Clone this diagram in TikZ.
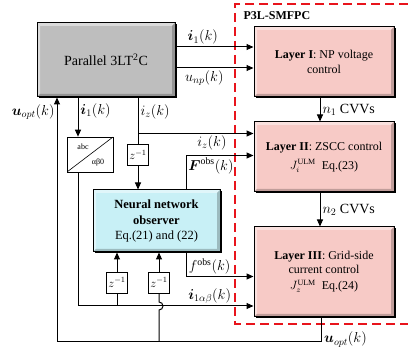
\documentclass[tikz,border=0pt]{standalone}
\usepackage{amsmath,amssymb}
\usepackage{fontspec}
\setmainfont{Liberation Serif}
\usepackage{xcolor}
\usepackage{tikz}
\usetikzlibrary{arrows.meta,positioning,calc,shadows}
\definecolor{plantgray}{HTML}{BEBEBE}
\definecolor{layerpink}{HTML}{F7CAC6}
\definecolor{obscyan}{HTML}{C8F0F6}
\definecolor{ctrlred}{HTML}{E8141C}

\begin{document}
\begin{tikzpicture}[x=1pt,y=1pt,
  font=\fontsize{12}{15}\selectfont,
  bevel/.style={path picture={
    \fill[white,opacity=0.45] (path picture bounding box.north west) -- (path picture bounding box.north east)
      -- ([shift={(-3pt,-3pt)}]path picture bounding box.north east) -- ([shift={(3pt,-3pt)}]path picture bounding box.north west)
      -- ([shift={(3pt,3pt)}]path picture bounding box.south west) -- (path picture bounding box.south west) -- cycle;
    \fill[black,opacity=0.22] (path picture bounding box.south east) -- (path picture bounding box.south west)
      -- ([shift={(3pt,3pt)}]path picture bounding box.south west) -- ([shift={(-3pt,3pt)}]path picture bounding box.south east)
      -- ([shift={(-3pt,-3pt)}]path picture bounding box.north east) -- (path picture bounding box.north east) -- cycle;}},
  blockbox/.style={draw=black,line width=1pt,align=center,inner sep=2pt,bevel,
    drop shadow={shadow xshift=1.5pt,shadow yshift=-1.5pt,fill=black,opacity=1}},
  delaybox/.style={draw=black,line width=0.6pt,fill=white,minimum size=21pt,inner sep=0pt},
  lbl/.style={font=\fontsize{14}{16}\selectfont,inner sep=2pt},
  sig/.style={-{Triangle[length=7pt,width=6pt]},line width=1pt},
  wire/.style={line width=1pt}]
  \useasboundingbox (0,0) rectangle (408,354);
  % controller frame
  \draw[ctrlred,line width=1.4pt,dash pattern=on 9pt off 5pt] (408,350) -- (235,350) -- (235,30) -- (408,30);
  \node[anchor=west,font=\fontsize{12}{14}\bfseries] (title) at (240,338) {P3L-SMFPC};
  % blocks
  \node[blockbox,fill=plantgray,minimum width=138pt,minimum height=74pt,font=\fontsize{14}{16}\selectfont] (plant) at (106,294) {Parallel 3LT\textsuperscript{2}C};
  \node[blockbox,fill=layerpink,minimum width=140pt,minimum height=70pt] (layer1) at (324,292)
    {\textbf{Layer I}: NP voltage\\control};
  \node[blockbox,fill=layerpink,minimum width=140pt,minimum height=70pt] (layer2) at (324,197)
    {\textbf{Layer II}: ZSCC control\\[4pt]$J_i^{\mathrm{ULM}}$\ \ Eq.(23)};
  \node[blockbox,fill=layerpink,minimum width=140pt,minimum height=90pt,font=\fontsize{12}{13.5}\selectfont] (layer3) at (324,82)
    {\textbf{Layer III}: Grid-side\\current control\\[3pt]$J_z^{\mathrm{ULM}}$\ \ Eq.(24)};
  \node[blockbox,fill=obscyan,minimum width=127pt,minimum height=62pt,font=\fontsize{12.5}{15.5}\selectfont] (nno) at (156.5,133)
    {\textbf{Neural network}\\\textbf{observer}\\Eq.(21) and (22)};
  % abc/alpha-beta-0 transform
  \node[draw=black,line width=0.6pt,fill=white,minimum width=46pt,minimum height=35pt,
    path picture={\draw[line width=0.6pt] (path picture bounding box.south west) -- (path picture bounding box.north east);}] (conv) at (90,199.5) {};
  \node[font=\fontsize{8}{9}\selectfont] (convin) at (83,207) {abc};
  \node[font=\fontsize{8}{9}\selectfont] (convout) at (98,191) {αβ0};
  % unit delays
  \node[delaybox] (dz) at (138,199) {$z^{-1}$};
  \node[delaybox] (dl) at (117,71.5) {$z^{-1}$};
  \node[delaybox] (dr) at (159,71.5) {$z^{-1}$};
  % helper points
  \coordinate (i1out) at ([yshift=13pt]plant.east);
  \coordinate (unpout) at ([yshift=-8pt]plant.east);
  \coordinate (i1top) at ([xshift=-28pt]plant.south);
  \coordinate (albe) at (i1top |- 0,48);
  \coordinate (iztop) at (plant.south -| dz);
  \coordinate (izj) at ([yshift=-36pt]iztop);
  \coordinate (fT) at ([xshift=29.5pt]nno.north);
  \coordinate (fTc) at ([yshift=34pt]fT);
  \coordinate (fB) at ([xshift=29.5pt]nno.south);
  \coordinate (fBc) at ([yshift=-24pt]fB);
  \coordinate (uoptR) at ([xshift=-3pt,yshift=-24pt]layer3.south);
  \coordinate (uoptL) at (57,0 |- uoptR);
  % Layer I inputs
  \draw[sig] (i1out) -- node[lbl,pos=0.35,above] {$\boldsymbol{i}_1(k)$} (i1out -| layer1.west);
  \draw[sig] (unpout) -- node[lbl,pos=0.37,below] {$u_{np}(k)$} (unpout -| layer1.west);
  % converter currents
  \draw[sig] (i1top) -- node[lbl,pos=0.35,right] {$\boldsymbol{i}_1(k)$} (i1top |- conv.north);
  \draw[sig] (i1top |- conv.south) -- (albe) -- node[lbl,pos=0.75,above] {$\boldsymbol{i}_{1\alpha\beta}(k)$} (albe -| layer3.west);
  \draw[sig] (iztop) -- node[lbl,pos=0.4,right] {$i_z(k)$} (izj) -- node[lbl,pos=0.64,below] {$i_z(k)$} (izj -| layer2.west);
  \draw[wire] (izj) -- (dz.north);
  \draw[sig] (dz.south) -- (dz |- nno.north);
  % observer outputs
  \draw[sig] (fT) -- (fTc) -- node[lbl,pos=0.37,below] {$\boldsymbol{F}^{\mathrm{obs}}(k)$} (fTc -| layer2.west);
  \draw[sig] (fB) -- (fBc) -- node[lbl,pos=0.35,above] {$f^{\mathrm{obs}}(k)$} (fBc -| layer3.west);
  % layer cascade
  \draw[sig] ([xshift=-4pt]layer1.south) -- node[lbl,midway,right] {$n_1$ CVVs} ([xshift=-4pt]layer2.north);
  \draw[sig] ([xshift=-4pt]layer2.south) -- node[lbl,midway,right] {$n_2$ CVVs} ([xshift=-4pt]layer3.north);
  % optimal voltage feedback
  \draw[sig] (uoptR |- layer3.south) -- (uoptR) -- (uoptL) -- node[lbl,pos=0.94,left] {$\boldsymbol{u}_{opt}(k)$} (uoptL |- plant.south);
  \node[lbl,anchor=west,xshift=1pt,yshift=2pt] (uoptlbl) at (uoptR) {$\boldsymbol{u}_{opt}(k)$};
  % delayed observer inputs
  \draw[wire] (dl |- albe) -- (dl.south);
  \draw[sig] (dl.north) -- (dl |- nno.south);
  \draw[wire] (dr |- uoptL) -- ($(dr |- albe)+(0,-4)$) arc[start angle=-90,end angle=90,radius=4pt] -- (dr.south);
  \draw[sig] (dr.north) -- (dr |- nno.south);
\end{tikzpicture}
\end{document}
